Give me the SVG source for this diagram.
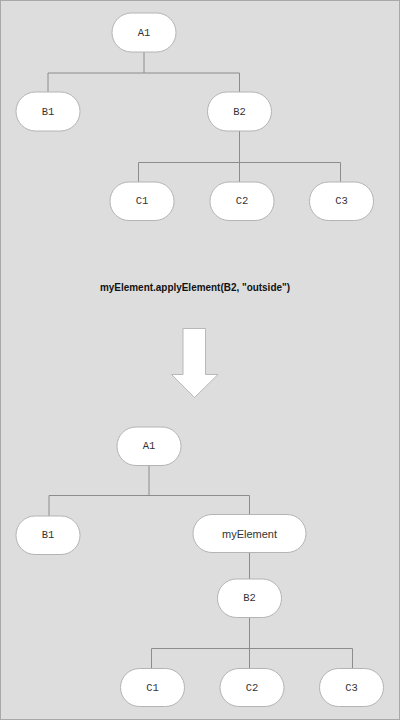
<svg xmlns="http://www.w3.org/2000/svg" width="400" height="720" viewBox="0 0 400 720">
<style>
.bg{fill:#dddddd;stroke:#a8a8a8;stroke-width:2}
.node rect{fill:#ffffff;stroke:#b4b4b4;stroke-width:1}
.node text{font-family:"Liberation Mono","DejaVu Sans Mono",monospace;font-size:10.5px;fill:#333;text-anchor:middle;dominant-baseline:central}
.node text.sans{font-family:"Liberation Sans",Arial,sans-serif;font-size:11px}
.conn line{stroke:#8c8c8c;stroke-width:1}
.cap{font-family:"Liberation Sans",Arial,sans-serif;font-size:11px;font-weight:bold;fill:#111;text-anchor:middle}
</style>
<rect class="bg" x="0" y="0" width="400" height="720"/>
<g class="conn">
<line x1="144" y1="52" x2="144" y2="73"/>
<line x1="48" y1="73" x2="239.5" y2="73"/>
<line x1="48" y1="73" x2="48" y2="92"/>
<line x1="239.5" y1="73" x2="239.5" y2="92"/>
<line x1="239.5" y1="131" x2="239.5" y2="182"/>
<line x1="138.5" y1="162.5" x2="340.5" y2="162.5"/>
<line x1="138.5" y1="162.5" x2="138.5" y2="182"/>
<line x1="340.5" y1="162.5" x2="340.5" y2="182"/>
<line x1="149" y1="465" x2="149" y2="495.5"/>
<line x1="49" y1="495.5" x2="249.5" y2="495.5"/>
<line x1="49" y1="495.5" x2="49" y2="516"/>
<line x1="249.5" y1="495.5" x2="249.5" y2="514"/>
<line x1="249.5" y1="552" x2="249.5" y2="579"/>
<line x1="249.5" y1="617" x2="249.5" y2="668"/>
<line x1="151.5" y1="648.5" x2="352.5" y2="648.5"/>
<line x1="151.5" y1="648.5" x2="151.5" y2="668"/>
<line x1="352.5" y1="648.5" x2="352.5" y2="668"/>
</g>
<g id="top-A1" class="node"><rect x="112" y="13" width="64" height="39" rx="19.5"/><text x="144" y="32.5">A1</text></g>
<g id="top-B1" class="node"><rect x="16" y="92" width="64" height="39" rx="19.5"/><text x="48" y="111.5">B1</text></g>
<g id="top-B2" class="node"><rect x="207.5" y="92" width="64" height="39" rx="19.5"/><text x="239.5" y="111.5">B2</text></g>
<g id="top-C1" class="node"><rect x="110" y="182" width="64" height="38.5" rx="19"/><text x="142" y="201">C1</text></g>
<g id="top-C2" class="node"><rect x="210" y="182" width="64" height="38.5" rx="19"/><text x="242" y="201">C2</text></g>
<g id="top-C3" class="node"><rect x="309.5" y="182" width="64" height="38.5" rx="19"/><text x="341.5" y="201">C3</text></g>
<text class="cap" x="195" y="290.5" textLength="190" lengthAdjust="spacingAndGlyphs">myElement.applyElement(B2, "outside")</text>
<g id="arrow"><polygon points="183,328.5 205.5,328.5 205.5,374.5 218,374.5 194.5,397.5 171.5,374.5 183,374.5" fill="#ffffff" stroke="#b8b8b8" stroke-width="1"/></g>
<g id="bot-A1" class="node"><rect x="117" y="427" width="64" height="38.5" rx="19"/><text x="149" y="446">A1</text></g>
<g id="bot-B1" class="node"><rect x="16" y="516" width="64" height="38.5" rx="19"/><text x="48" y="535">B1</text></g>
<g id="bot-myElement" class="node"><rect x="193" y="514.5" width="113" height="38" rx="19"/><text class="sans" x="249.5" y="533.5">myElement</text></g>
<g id="bot-B2" class="node"><rect x="217.5" y="579" width="64" height="38.5" rx="19"/><text x="249.5" y="598">B2</text></g>
<g id="bot-C1" class="node"><rect x="120.5" y="668.5" width="64" height="38" rx="19"/><text x="152.5" y="687.5">C1</text></g>
<g id="bot-C2" class="node"><rect x="220" y="668.5" width="64" height="38" rx="19"/><text x="252" y="687.5">C2</text></g>
<g id="bot-C3" class="node"><rect x="319.5" y="668.5" width="64" height="38" rx="19"/><text x="351.5" y="687.5">C3</text></g>
</svg>
